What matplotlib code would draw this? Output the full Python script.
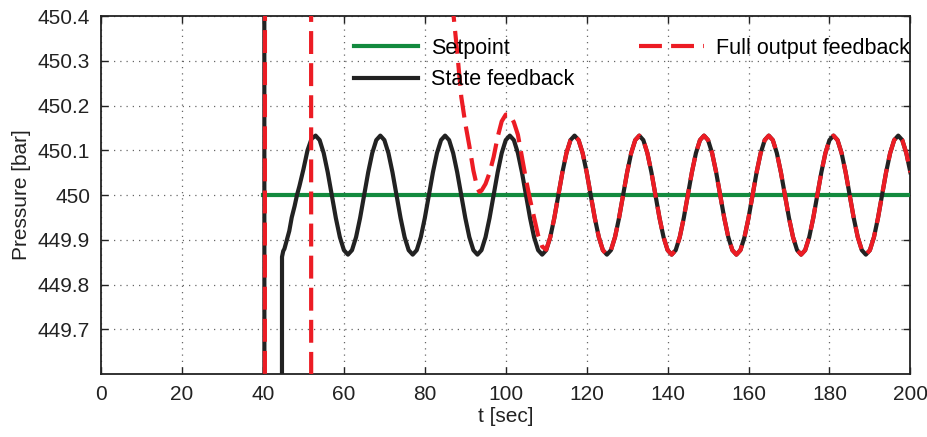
import numpy as np
import matplotlib
matplotlib.use("Agg")
import matplotlib.pyplot as plt
from matplotlib.ticker import FormatStrFormatter

plt.rcParams['font.family'] = ['Liberation Sans', 'DejaVu Sans']

# setpoint
setpoint_t = [40.0, 200.0]
setpoint_p = [450.0, 450.0]

# state feedback: start-up transient
state_t0 = [40.3, 40.4, 44.6, 44.7, 45.0, 45.3, 45.9, 46.5, 47.1, 47.8, 48.4, 49.0, 50.0,
            51.0, 52.0]
state_p0 = [452.0, 447.0, 447.0, 449.862, 449.875, 449.88, 449.9, 449.92, 449.95, 449.975,
            450.0, 450.02, 450.058, 450.1, 450.126]

# state feedback: steady oscillation, one value per second from t = 53 to 200
state_t1 = list(range(53, 201))
state_p1 = [
    450.133, 450.123, 450.094, 450.051, 450.000, 449.949, 449.906, 449.877,
    449.867, 449.877, 449.906, 449.949, 450.000, 450.051, 450.094, 450.123,
    450.133, 450.123, 450.094, 450.051, 450.000, 449.949, 449.906, 449.877,
    449.867, 449.877, 449.906, 449.949, 450.000, 450.051, 450.094, 450.123,
    450.133, 450.123, 450.094, 450.051, 450.000, 449.949, 449.906, 449.877,
    449.867, 449.877, 449.906, 449.949, 450.000, 450.051, 450.094, 450.123,
    450.133, 450.123, 450.094, 450.051, 450.000, 449.949, 449.906, 449.877,
    449.867, 449.877, 449.906, 449.949, 450.000, 450.051, 450.094, 450.123,
    450.133, 450.123, 450.094, 450.051, 450.000, 449.949, 449.906, 449.877,
    449.867, 449.877, 449.906, 449.949, 450.000, 450.051, 450.094, 450.123,
    450.133, 450.123, 450.094, 450.051, 450.000, 449.949, 449.906, 449.877,
    449.867, 449.877, 449.906, 449.949, 450.000, 450.051, 450.094, 450.123,
    450.133, 450.123, 450.094, 450.051, 450.000, 449.949, 449.906, 449.877,
    449.867, 449.877, 449.906, 449.949, 450.000, 450.051, 450.094, 450.123,
    450.133, 450.123, 450.094, 450.051, 450.000, 449.949, 449.906, 449.877,
    449.867, 449.877, 449.906, 449.949, 450.000, 450.051, 450.094, 450.123,
    450.133, 450.123, 450.094, 450.051, 450.000, 449.949, 449.906, 449.877,
    449.867, 449.877, 449.906, 449.949, 450.000, 450.051, 450.094, 450.123,
    450.133, 450.123, 450.094, 450.051,
]

# full output feedback: transient (nan = off-scale gap), then tracks state feedback
full_t0 = [40.4, 40.55, 51.85, 51.95, 52.0, 84.0, 86.0, 87.0, 88.0, 89.0, 90.0, 91.0, 92.0,
           93.0, 93.5, 94.0, 95.0, 96.0, 97.0, 98.0, 99.0, 100.0, 101.0, 102.0, 103.0,
           104.0, 105.0, 106.0, 107.0, 108.0, 109.0, 110.0]
full_p0 = [447.0, 453.0, 453.0, 447.0, np.nan, 450.85, 450.53, 450.41, 450.32, 450.22, 450.16,
           450.11, 450.055, 450.015, 450.007, 450.01, 450.025, 450.05, 450.085, 450.13,
           450.165, 450.18, 450.18, 450.163, 450.135, 450.085, 450.035, 449.99, 449.95,
           449.91, 449.885, 449.878]

full_t = full_t0 + state_t1[111 - 53:]
full_p = full_p0 + state_p1[111 - 53:]
state_t = state_t0 + state_t1
state_p = state_p0 + state_p1

fig = plt.figure(figsize=(9.28, 4.37), dpi=100)
ax = fig.add_axes([0.109, 0.144, 0.872, 0.819])

ax.plot(setpoint_t, setpoint_p, color='#138a3e', lw=3.0, label='Setpoint', zorder=3)
ax.plot(state_t, state_p, color='#222222', lw=3.0, label='State feedback', zorder=4)
ax.plot(full_t, full_p, color='#ec1c24', lw=3.0, dashes=(5.5, 2.2),
        label='Full output feedback', zorder=5)

ax.set_xlim(0, 200)
ax.set_ylim(449.6, 450.4)
ax.set_xticks(np.arange(0, 201, 20))
ax.set_yticks([449.7, 449.8, 449.9, 450.0, 450.1, 450.2, 450.3, 450.4])
ax.yaxis.set_major_formatter(FormatStrFormatter('%g'))
ax.tick_params(direction='in', top=True, right=True, length=5, width=1,
               labelsize=15, colors='#222222', pad=8)
ax.grid(True, linestyle=(0, (1, 4)), color='#666666', lw=0.9)
for s in ax.spines.values():
    s.set_linewidth(1.3)
    s.set_color('#222222')

ax.set_xlabel('t [sec]', fontsize=15, color='#222222', labelpad=2)
ax.set_ylabel('Pressure [bar]', fontsize=15, color='#222222', labelpad=5)

ax.legend(ncol=2, frameon=False, loc='upper left', bbox_to_anchor=(0.312, 0.94),
          borderaxespad=0, borderpad=0, fontsize=15.5, handlelength=3.0,
          handletextpad=0.6, columnspacing=3.0, labelspacing=0.5)

fig.savefig('out.png', dpi=100)
